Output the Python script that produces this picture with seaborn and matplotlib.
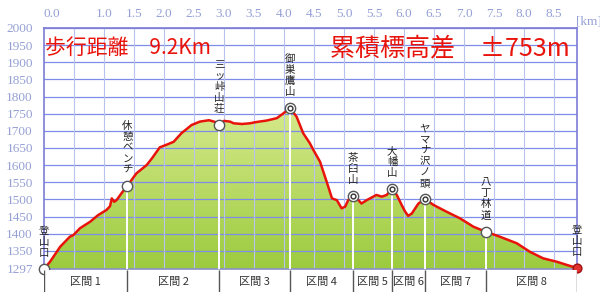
import numpy as np
import matplotlib
matplotlib.use("Agg")
import matplotlib.pyplot as plt
import seaborn as sns
from matplotlib.colors import LinearSegmentedColormap

# ---------------- data ----------------
dist_km = [0.00, 0.10, 0.27, 0.43, 0.49, 0.60, 0.77, 0.90, 1.04, 1.10, 1.13, 1.17, 1.21, 1.30,
           1.39, 1.54, 1.71, 1.80, 1.93, 2.05, 2.16, 2.29, 2.46, 2.60, 2.75, 2.85, 2.92, 3.00,
           3.10, 3.16, 3.30, 3.43, 3.55, 3.71, 3.88, 3.99, 4.10, 4.21, 4.32, 4.43, 4.49, 4.60,
           4.71, 4.80, 4.88, 4.96, 5.02, 5.07, 5.15, 5.24, 5.29, 5.38, 5.54, 5.63, 5.71, 5.80,
           5.88, 5.96, 6.02, 6.07, 6.13, 6.24, 6.35, 6.49, 6.71, 6.93, 7.16, 7.36, 7.60, 7.88,
           8.10, 8.32, 8.55, 8.71, 8.88]
elev_m = [1297, 1318, 1362, 1391, 1396, 1416, 1435, 1454, 1469, 1480, 1503, 1493, 1498, 1520,
          1540, 1576, 1600, 1620, 1652, 1660, 1668, 1693, 1717, 1727, 1731, 1726, 1721, 1729,
          1727, 1722, 1720, 1722, 1726, 1730, 1737, 1751, 1767, 1741, 1693, 1664, 1644, 1610,
          1552, 1503, 1498, 1474, 1479, 1498, 1511, 1498, 1488, 1498, 1513, 1508, 1513, 1530,
          1513, 1484, 1464, 1452, 1459, 1488, 1501, 1484, 1464, 1445, 1420, 1406, 1391, 1372,
          1347, 1328, 1318, 1309, 1300]

wp_names = ["登山口", "休憩ベンチ", "三ッ峠山荘", "御巣鷹山", "茶臼山", "大幡山",
            "ヤマナ沢ノ頭", "八丁林道", "登山口"]
wp_km = [0.0, 1.39, 2.92, 4.10, 5.15, 5.80, 6.35, 7.36, 8.88]
wp_elev = [1297, 1540, 1718, 1767, 1511, 1530, 1501, 1406, 1300]
wp_kind = ["open", "open", "open", "peak", "peak", "peak", "peak", "open", "end"]

section_labels = ["区間 1", "区間 2", "区間 3", "区間 4", "区間 5", "区間 6", "区間 7", "区間 8"]

y_ticks = [1297, 1350, 1400, 1450, 1500, 1550, 1600, 1650, 1700, 1750, 1800, 1850, 1900, 1950, 2000]
y_tick_labels = ["1297", "1350", "1400", "1450", "1500", "1550", "1600", "1650", "1700", "1750",
                 "1800", "1850", "1900", "1950", "2000"]
x_ticks = [0.0, 0.5, 1.0, 1.5, 2.0, 2.5, 3.0, 3.5, 4.0, 4.5, 5.0, 5.5, 6.0, 6.5, 7.0, 7.5, 8.0, 8.5]
x_tick_labels = ["0.0", "", "1.0", "1.5", "2.0", "2.5", "3.0", "3.5", "4.0", "4.5", "5.0",
                 "5.5", "6.0", "6.5", "7.0", "7.5", "8.0", "8.5"]
x_unit = "[km]"

title_left = "歩行距離　9.2Km"
title_right = "累積標高差　±753m"

# ---------------- style ----------------
sns.set_theme(style="white")
plt.rcParams['font.family'] = ['Noto Sans CJK JP', 'DejaVu Sans']

X_MAX = 8.883
Y_MIN, Y_MAX = 1297, 2000
SERIF = ["Liberation Serif", "DejaVu Serif"]
TICK_COLOR = "#95a0d4"

fig = plt.figure(figsize=(6, 2.92), dpi=100)
fig.patch.set_facecolor("white")
ax = fig.add_axes([44 / 600, 1 - 269 / 292, 533 / 600, 241 / 292])
band = fig.add_axes([44 / 600, 0, 533 / 600, 22 / 292])

ax.set_facecolor("white")
ax.set_xlim(0, X_MAX)
ax.set_ylim(Y_MIN, Y_MAX)

# gradient fill under the profile
poly = ax.fill_between(dist_km, elev_m, Y_MIN, color="none", lw=0, zorder=1)
cmap = LinearSegmentedColormap.from_list("g", ["#9ccb3e", "#d6ea8c"])
grad = np.linspace(0, 1, 256).reshape(-1, 1)
im = ax.imshow(grad, extent=[0, X_MAX, Y_MIN, max(elev_m)], aspect="auto",
               cmap=cmap, origin="lower", zorder=1)
im.set_clip_path(poly.get_paths()[0], transform=ax.transData)

# grid
for y in y_ticks[1:]:
    ax.axhline(y, color="#7d8ce8", lw=0.9, zorder=2)
for x in x_ticks[1:]:
    ax.axvline(x, color="#b7c2ee", lw=0.8, zorder=2)

# white drop lines from waypoints
for k, e in zip(wp_km[1:-1], wp_elev[1:-1]):
    ax.plot([k, k], [Y_MIN, e], color="white", lw=1.4, zorder=3)

# profile
sns.lineplot(x=dist_km, y=elev_m, ax=ax, color="#e8140c", lw=1.8, zorder=5,
             sort=False, estimator=None)

# markers
open_idx = [i for i, k in enumerate(wp_kind) if k == "open"]
peak_idx = [i for i, k in enumerate(wp_kind) if k == "peak"]
end_idx = [i for i, k in enumerate(wp_kind) if k == "end"]
sns.scatterplot(x=[wp_km[i] for i in open_idx], y=[wp_elev[i] for i in open_idx], ax=ax,
                s=55, color="white", edgecolor="#555555", linewidth=1.0, zorder=6, clip_on=False)
sns.scatterplot(x=[wp_km[i] for i in peak_idx], y=[wp_elev[i] for i in peak_idx], ax=ax,
                s=55, color="white", edgecolor="#555555", linewidth=1.0, zorder=6, clip_on=False)
sns.scatterplot(x=[wp_km[i] for i in peak_idx], y=[wp_elev[i] for i in peak_idx], ax=ax,
                s=12, color="white", edgecolor="#333333", linewidth=1.0, zorder=7, clip_on=False)
sns.scatterplot(x=[wp_km[i] for i in end_idx], y=[wp_elev[i] for i in end_idx], ax=ax,
                s=40, color="#e03030", edgecolor="#a01010", linewidth=1.0, zorder=6, clip_on=False)

# vertical (stacked) labels
for name, k, e in zip(wp_names, wp_km, wp_elev):
    ax.annotate("\n".join(name), xy=(k, e), xytext=(0, 8), textcoords="offset points",
                ha="center", va="bottom", fontsize=7.5, linespacing=1.12, color="#222222",
                zorder=8, annotation_clip=False)

# titles
ax.text(0.02, 1942, title_left, color="#e8140c", fontsize=15, va="center", ha="left", zorder=9)
ax.text(4.77, 1942, title_right, color="#e8140c", fontsize=18, va="center", ha="left", zorder=9)

# axes ticks
ax.xaxis.tick_top()
ax.set_xticks(x_ticks)
ax.set_xticklabels(x_tick_labels, fontfamily=SERIF)
ax.set_yticks(y_ticks)
ax.set_yticklabels(y_tick_labels, fontfamily=SERIF)
ax.tick_params(axis="both", length=0, labelcolor=TICK_COLOR, labelsize=9.5)
ax.tick_params(axis="x", pad=6)
ax.tick_params(axis="y", pad=8)
ax.get_xticklabels()[0].set_ha("left")
ax.text(X_MAX + 0.19, 1.0, x_unit, transform=ax.get_xaxis_transform(), ha="center",
        va="bottom", fontsize=9.5, color=TICK_COLOR, family=SERIF)
for side in ["top", "right", "left", "bottom"]:
    ax.spines[side].set_color("#7b7bd6")
    ax.spines[side].set_linewidth(1.2)
ax.spines["bottom"].set_color("#8a90c8")

# section band
band.set_xlim(0, X_MAX)
band.set_ylim(0, 1)
band.set_facecolor("white")
for side in ["top", "right", "bottom", "left"]:
    band.spines[side].set_visible(False)
band.set_xticks([])
band.set_yticks([])
band.vlines([0] + wp_km[1:], 0, 1, color="#555555", lw=1.0)
bounds = wp_km
for i, lab in enumerate(section_labels):
    band.text((bounds[i] + bounds[i + 1]) / 2, 0.45, lab, ha="center", va="center",
              fontsize=8, color="#333333")

fig.savefig("out.png", dpi=100)
